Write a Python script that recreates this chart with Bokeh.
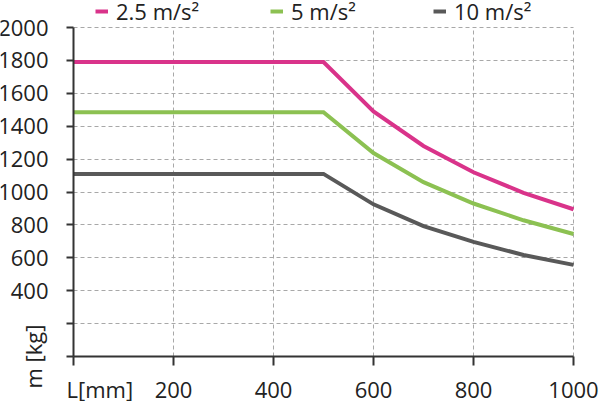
import numpy as np
from bokeh.plotting import figure
from bokeh.models import Range1d, Legend, LegendItem, FixedTicker, Label, Grid
from bokeh.embed import file_html
from bokeh.resources import INLINE

# data
length_mm = [0, 500, 600, 700, 800, 900, 1000]
mass_25 = [1790, 1790, 1490, 1280, 1120, 995, 895]
mass_5 = [1485, 1485, 1237, 1060, 930, 828, 745]
mass_10 = [1110, 1110, 925, 793, 697, 617, 557]
series_names = ["2.5 m/s²", "5 m/s²", "10 m/s²"]
series_colors = ["#d9338a", "#8cc152", "#595959"]
x_ticks = [0, 200, 400, 600, 800, 1000]
y_ticks = [0, 200, 400, 600, 800, 1000, 1200, 1400, 1600, 1800, 2000]
x_title = "L[mm]"
y_title = "m [kg]"

FONT = "Open Sans"
TXT = "#222222"
AX = "#333333"

# page layout (pixels): the plot area inside the canvas
W, H = 600, 401
LEFT, RIGHT, TOP, BOTTOM = 73, 573, 27, 356
LEGEND_X = [95, 270, 433]
x0, x1 = x_ticks[0], x_ticks[-1]
y0, y1 = y_ticks[0], y_ticks[-1]
xs = (x1 - x0) / (RIGHT - LEFT)
ys = (y1 - y0) / (BOTTOM - TOP)

# the frame covers the whole canvas, axes are pinned at zero
p = figure(width=W, height=H, output_backend="svg", toolbar_location=None,
           x_range=Range1d(x0 - LEFT * xs, x1 + (W - RIGHT) * xs),
           y_range=Range1d(y0 - (H - BOTTOM) * ys, y1 + TOP * ys),
           min_border=0)
p.outline_line_color = None
p.background_fill_color = "white"

# axes
for ax in (p.xaxis, p.yaxis):
    ax.fixed_location = 0
    ax.axis_line_color = AX
    ax.axis_line_width = 2
    ax.major_tick_line_color = AX
    ax.major_tick_line_width = 2
    ax.major_tick_in = 0
    ax.minor_tick_line_color = None
    ax.major_label_text_font = FONT
    ax.major_label_text_font_size = "22px"
    ax.major_label_text_color = TXT
p.xaxis.bounds = (x0, x1)
p.yaxis.bounds = (y0, y1)
p.xaxis.ticker = FixedTicker(ticks=x_ticks)
p.yaxis.ticker = FixedTicker(ticks=y_ticks)
p.xaxis.major_tick_out = 9
p.yaxis.major_tick_out = 7
p.xaxis.major_label_standoff = 16
p.yaxis.major_label_standoff = 18
p.xaxis.major_label_overrides = {0: ""}
p.yaxis.major_label_overrides = {0: "", 200: ""}

# dashed grid, kept inside the plot area
for g in (p.xgrid, p.ygrid):
    g.grid_line_color = "#a8a8a8"
    g.grid_line_dash = "4 3"
    g.grid_line_width = 1
p.xgrid.ticker = FixedTicker(ticks=x_ticks)
p.ygrid.ticker = FixedTicker(ticks=y_ticks)
p.xgrid.bounds = (x0, x1)
p.ygrid.bounds = (y0, y1)
if "cross_bounds" in Grid.properties():
    p.xgrid.cross_bounds = (y0, y1)
    p.ygrid.cross_bounds = (x0, x1)

# curves
renderers = []
for yv, c in zip([mass_25, mass_5, mass_10], series_colors):
    r = p.line(length_mm, yv, line_color=c, line_width=4, line_join="miter")
    renderers.append(r)

# legend on top: one small legend per series so each sits where the reference has it
for name, r, lx in zip(series_names, renderers, LEGEND_X):
    legend = Legend(items=[LegendItem(label=name, renderers=[r])],
                    orientation="horizontal", location=(lx, H - 26),
                    glyph_width=13, glyph_height=20, label_standoff=8,
                    padding=0, margin=0, border_line_alpha=0, background_fill_alpha=0,
                    label_text_font=FONT, label_text_font_size="22px", label_text_color=TXT)
    p.add_layout(legend)

# axis titles
p.add_layout(Label(x=66, y=373, x_units="canvas", y_units="canvas", text=x_title,
                   text_font=FONT, text_font_size="22px", text_color=TXT,
                   text_align="left", text_baseline="top"))
p.add_layout(Label(x=32, y=BOTTOM, x_units="canvas", y_units="canvas", text=y_title,
                   angle=np.pi / 2, text_font=FONT, text_font_size="22px", text_color=TXT,
                   text_align="center", text_baseline="middle"))

open("out.html", "w").write(file_html(p, INLINE))
